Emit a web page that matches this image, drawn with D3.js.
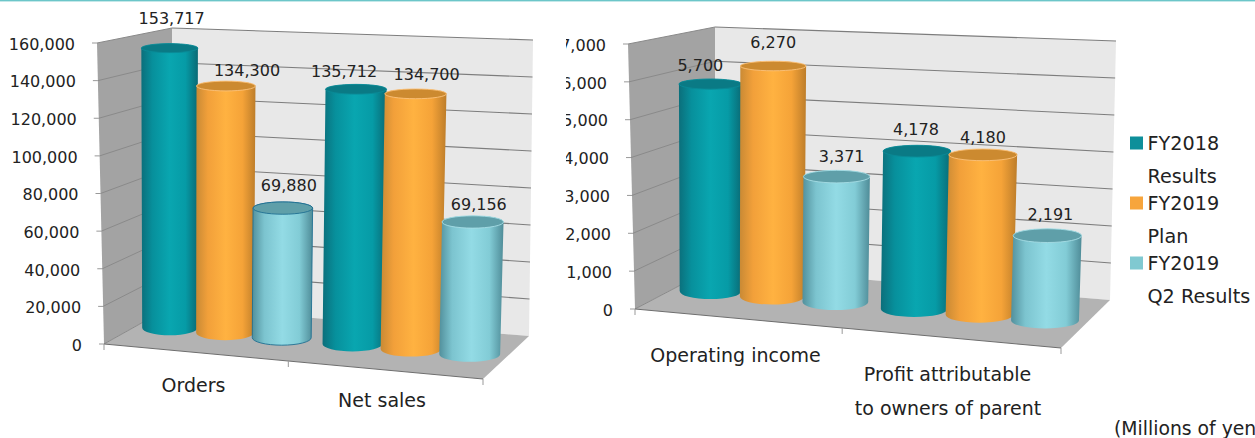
<!DOCTYPE html>
<html>
<head>
<meta charset="utf-8">
<script src="https://cdn.jsdelivr.net/npm/d3@7"></script>
<style>
  html, body { margin: 0; padding: 0; background: #fff; overflow: hidden; }
  text { font-family: "DejaVu Sans", Verdana, sans-serif; fill: #222; }
</style>
</head>
<body>
<svg id="chart" width="1255" height="438"></svg>
<script>
// Series and categories, millions of yen
const seriesNames = ["FY2018 Results", "FY2019 Plan", "FY2019 Q2 Results"];

const salesCategories = ["Orders", "Net sales"];
const salesFy2018 = [153717, 135712];
const salesFy2019Plan = [134300, 134700];
const salesFy2019Q2 = [69880, 69156];
const salesTicks = [0, 20000, 40000, 60000, 80000, 100000, 120000, 140000, 160000];

const incomeCategories = ["Operating income", "Profit attributable to owners of parent"];
const incomeFy2018 = [5700, 4178];
const incomeFy2019Plan = [6270, 4180];
const incomeFy2019Q2 = [3371, 2191];
const incomeTicks = [0, 1000, 2000, 3000, 4000, 5000, 6000, 7000];

const legendLines = [["FY2018", "Results"], ["FY2019", "Plan"], ["FY2019", "Q2 Results"]];

// Look of the three cylinder series
const palette = [
  { id: "teal", stops: ["#0b6f7b", "#07909c", "#09a6b0", "#069ba6", "#0a6a75"], cap: "#0a7a85", rim: "#0a8a96", swatch: "#0e8f9a" },
  { id: "orange", stops: ["#c98a35", "#f2a03a", "#ffb241", "#f5a338", "#bd7d2a"], cap: "#cc8a30", rim: "#fbc27c", swatch: "#f7a53c" },
  { id: "aqua", stops: ["#52909c", "#7cc4cf", "#93dbe5", "#82ccd6", "#4f8c98"], cap: "#5f9fa9", rim: "#a6dde4", swatch: "#80c9d1" }
];

const svg = d3.select("#chart");
const defs = svg.append("defs");

palette.forEach(p => {
  const g = defs.append("linearGradient").attr("id", "grad-" + p.id);
  [0, 0.2, 0.5, 0.78, 1].forEach((o, i) => {
    g.append("stop").attr("offset", o).attr("stop-color", p.stops[i]);
  });
});

defs.append("clipPath").attr("id", "cut-income-ticks")
  .append("rect").attr("x", 566).attr("y", 0).attr("width", 100).attr("height", 438);

svg.append("rect").attr("x", 0).attr("y", 0).attr("width", 1255).attr("height", 1.4).attr("fill", "#6cc6c9");

function drawChart(cfg) {
  const { box, categories, series, ticks, domainMax } = cfg;
  const chart = svg.append("g");

  const w = d3.scaleLinear().domain([0, domainMax]).range([0, 1]);
  const warp = d3.scalePow().exponent(1.04).domain([0, 1]).range([0, 1]);
  const cat = d3.scaleBand().domain(d3.range(categories.length)).range([0, 1]);
  const inner = d3.scaleBand().domain(d3.range(series.length)).range([0, cat.bandwidth()]).paddingInner(0).paddingOuter(0.113);
  const capRy = d3.scaleLinear().domain([0, 1]).range(cfg.ryRange);

  // Trilinear mapping of the plot box: u along the floor, v into the depth, h upward
  const lerp = (a, b, t) => [a[0] + (b[0] - a[0]) * t, a[1] + (b[1] - a[1]) * t];
  const project = (u, v, h) => {
    const front = lerp(lerp(box.flb, box.frb, u), lerp(box.flt, box.frt, u), h);
    const back = lerp(lerp(box.blb, box.brb, u), lerp(box.blt, box.brt, u), h);
    return lerp(front, back, v);
  };

  const poly = pts => "M" + pts.map(p => p.join(",")).join("L") + "Z";
  const line = d3.line();

  // Walls and floor
  chart.append("path").attr("d", poly([box.blb, box.brb, box.brt, box.blt])).attr("fill", "#e8e8e8");
  chart.append("path").attr("d", poly([box.flb, box.blb, box.blt, box.flt])).attr("fill", "#a3a3a3");
  chart.append("path").attr("d", poly([box.flb, box.frb, box.brb, box.blb])).attr("fill", "#b3b3b3");

  // Gridlines across both walls, with a tick out of the front corner
  const grid = chart.append("g").attr("fill", "none");
  ticks.forEach(t => {
    const h = w(t);
    const fl = project(0, 0, h), bl = project(0, 1, h), br = project(1, 1, h);
    grid.append("path").attr("d", line([[fl[0] - 5, fl[1]], fl])).attr("stroke", "#999").attr("stroke-width", 1);
    grid.append("path").attr("d", line([fl, bl])).attr("stroke", "#8a8a8a").attr("stroke-width", 1);
    if (t > 0) grid.append("path").attr("d", line([bl, br])).attr("stroke", "#7d7d7d").attr("stroke-width", 1.1);
  });

  // Front floor edge and its category ticks
  grid.append("path").attr("d", line([box.flb, box.frb])).attr("stroke", "#6e6e6e").attr("stroke-width", 1);
  d3.range(categories.length + 1).forEach(i => {
    const p = project(warp(i / categories.length), 0, 0);
    grid.append("path").attr("d", line([p, [p[0], p[1] + 6]])).attr("stroke", "#999").attr("stroke-width", 1);
  });

  // Value axis labels
  const tickLabels = chart.append("g").attr("text-anchor", "end").style("font-size", "16px");
  if (cfg.tickClip) tickLabels.attr("clip-path", `url(#${cfg.tickClip})`);
  ticks.forEach(t => {
    const fl = project(0, 0, w(t));
    tickLabels.append("text")
      .attr("x", fl[0] - 22)
      .attr("y", fl[1] + 1)
      .attr("dy", "0.36em")
      .text(d3.format(",")(t));
  });

  // Cylinders, left to right so that each overlaps the one before
  const bars = chart.append("g");
  const labels = chart.append("g").attr("text-anchor", "middle").style("font-size", "16px");
  const depth = 0.5;
  const leanFix = 2.5;
  let index = 0;
  categories.forEach((_, c) => {
    series.forEach((values, s) => {
      const value = values[c];
      const style = palette[s];
      const u0 = cat(c) + inner(s) + inner.bandwidth() / 2;
      const half = inner.bandwidth() * 0.515;
      const u = warp(u0), ua = warp(u0 - half), ub = warp(u0 + half);
      const h = w(value);

      const base = project(u, depth, 0), top = project(u, depth, h);
      top[0] += leanFix * h;
      const rxBase = (project(ub, depth, 0)[0] - project(ua, depth, 0)[0]) / 2;
      const rxTop = (project(ub, depth, h)[0] - project(ua, depth, h)[0]) / 2;
      const ryBase = capRy(0), ryTop = capRy(h);

      const body = `M${base[0] - rxBase},${base[1]}` +
        `A${rxBase},${ryBase} 0 0 0 ${base[0] + rxBase},${base[1]}` +
        `L${top[0] + rxTop},${top[1]}` +
        `A${rxTop},${ryTop} 0 0 0 ${top[0] - rxTop},${top[1]}Z`;

      const outlined = cfg.outlined === index;
      bars.append("path").attr("d", body)
        .attr("fill", `url(#grad-${style.id})`)
        .attr("stroke", outlined ? "#1f6f92" : "none")
        .attr("stroke-width", outlined ? 0.9 : 0);
      bars.append("ellipse")
        .attr("cx", top[0]).attr("cy", top[1])
        .attr("rx", rxTop).attr("ry", ryTop)
        .attr("fill", style.cap)
        .attr("stroke", outlined ? "#1f6f92" : style.rim)
        .attr("stroke-width", 0.9);

      const nudge = cfg.labelNudge[index];
      labels.append("text")
        .attr("x", top[0] + nudge[0])
        .attr("y", top[1] - ryTop + nudge[1])
        .attr("dy", "0.36em")
        .text(d3.format(",")(value));
      index++;
    });
  });

  // Category names, broken over lines where they run long
  const catLabels = chart.append("g").style("font-size", "19px").attr("text-anchor", "middle");
  cfg.categoryLines.forEach(item => {
    catLabels.append("text").attr("x", item.x).attr("y", item.y).attr("dy", "0.36em").text(item.text);
  });
}

drawChart({
  box: { flb: [104, 344], frb: [483, 379], blb: [172, 306], brb: [529, 336],
         flt: [97, 43], frt: [490, 59], blt: [172, 28], brt: [533, 40] },
  categories: salesCategories,
  series: [salesFy2018, salesFy2019Plan, salesFy2019Q2],
  ticks: salesTicks,
  domainMax: 160000,
  ryRange: [7.5, 4.4],
  outlined: 2,
  labelNudge: [[2, -25], [21, -11], [6, -17], [-12, -13], [11, -15], [6, -12]],
  categoryLines: [
    { x: 193.5, y: 385, text: salesCategories[0] },
    { x: 382, y: 400, text: salesCategories[1] }
  ]
});

drawChart({
  box: { flb: [635, 309], frb: [1061, 348], blb: [715, 267], brb: [1110, 300],
         flt: [628, 44], frt: [1067, 61], blt: [715, 27], brt: [1116, 41] },
  categories: incomeCategories,
  series: [incomeFy2018, incomeFy2019Plan, incomeFy2019Q2],
  ticks: incomeTicks,
  domainMax: 7000,
  tickClip: "cut-income-ticks",
  ryRange: [8, 4.4],
  labelNudge: [[-10, -14], [0, -19], [5, -14], [-1, -16], [0, -12], [3, -15]],
  categoryLines: [
    { x: 735.5, y: 355, text: incomeCategories[0] },
    { x: 947.5, y: 374, text: "Profit attributable" },
    { x: 948, y: 408, text: "to owners of parent" }
  ]
});

// Legend
const legend = svg.append("g").style("font-size", "19.2px");
const legendRows = d3.scaleLinear().domain([0, 1]).range([143, 203]);
legendLines.forEach((lines, i) => {
  const y = legendRows(i);
  legend.append("rect")
    .attr("x", 1130).attr("y", y - 6.5)
    .attr("width", 13).attr("height", 13)
    .attr("fill", palette[i].swatch);
  lines.forEach((t, k) => {
    legend.append("text")
      .attr("x", 1147.5).attr("y", y + k * 33)
      .attr("dy", "0.36em").text(t);
  });
});

svg.append("text").attr("x", 1114).attr("y", 428)
  .attr("dy", "0.36em").style("font-size", "18.8px").text("(Millions of yen)");
</script>
</body>
</html>
